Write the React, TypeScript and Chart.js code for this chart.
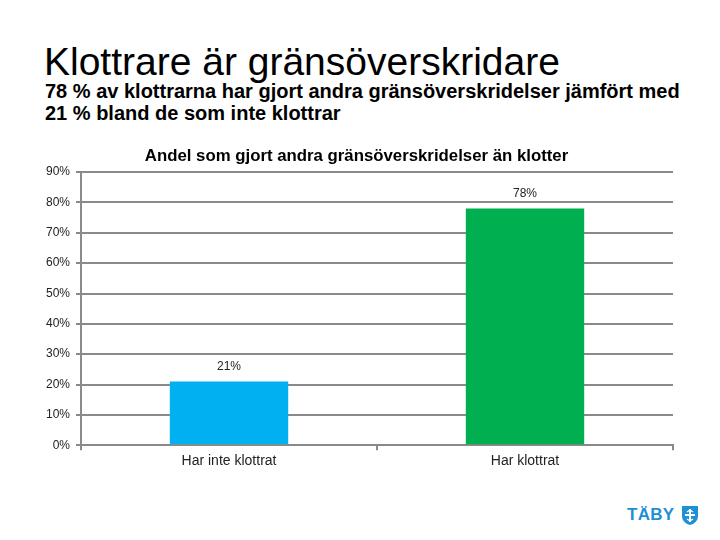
import React, { useEffect, useRef } from "react";
import { Chart, registerables } from "chart.js";

Chart.register(...registerables);

const categories = ["Har inte klottrat", "Har klottrat"];
const values = [21, 78];
const barColors = ["#00B0F0", "#00B050"];
const yTicks = [0, 10, 20, 30, 40, 50, 60, 70, 80, 90];

const FONT = "'Liberation Sans', Arial, sans-serif";

const dataLabels = {
  id: "dataLabels",
  afterDatasetsDraw(chart: any) {
    const ctx = chart.ctx;
    const meta = chart.getDatasetMeta(0);
    ctx.save();
    ctx.font = `12px ${FONT}`;
    ctx.fillStyle = "#222";
    ctx.textAlign = "center";
    ctx.textBaseline = "middle";
    meta.data.forEach((bar: any, i: number) => {
      ctx.fillText(values[i] + "%", bar.x, bar.y - 15);
    });
    ctx.restore();
  },
};

export default function App() {
  const ref = useRef<HTMLCanvasElement>(null);
  useEffect(() => {
    const chart = new Chart(ref.current as HTMLCanvasElement, {
      type: "bar",
      data: {
        labels: categories,
        datasets: [
          {
            data: values,
            backgroundColor: barColors,
            barPercentage: 0.4,
            categoryPercentage: 1,
          },
        ],
      },
      options: {
        animation: false,
        responsive: false,
        maintainAspectRatio: false,
        layout: { padding: { left: 40, right: 47, top: 0, bottom: 7 } },
        plugins: {
          legend: { display: false },
          tooltip: { enabled: false },
          title: {
            display: true,
            text: "Andel som gjort andra gränsöverskridelser än klotter",
            color: "#000",
            font: { family: FONT, size: 16.8, weight: "bold" },
            padding: { top: 6, bottom: 6 },
          },
        },
        scales: {
          x: {
            grid: {
              drawOnChartArea: false,
              drawTicks: true,
              tickLength: 5,
              offset: true,
              color: "#8a8a8a",
              lineWidth: 2,
            },
            border: { color: "#8a8a8a", width: 2 },
            ticks: {
              color: "#222",
              font: { family: FONT, size: 14 },
              padding: 3,
            },
          },
          y: {
            min: 0,
            max: 90,
            afterBuildTicks(axis: any) {
              axis.ticks = yTicks.map((v) => ({ value: v }));
            },
            grid: {
              color: "#8a8a8a",
              lineWidth: 2,
              tickLength: 5,
            },
            border: { color: "#8a8a8a", width: 2 },
            ticks: {
              color: "#222",
              font: { family: FONT, size: 12 },
              padding: 6,
              callback: (v: any) => v + "%",
            },
          },
        },
      },
      plugins: [dataLabels],
    });
    return () => chart.destroy();
  }, []);

  return (
    <div
      style={{
        position: "fixed",
        left: 0,
        top: 0,
        width: 720,
        height: 540,
        background: "#fff",
        fontFamily: FONT,
        overflow: "hidden",
      }}
    >
      <div
        style={{
          position: "absolute",
          left: 44,
          top: 40,
          fontSize: 39,
          lineHeight: "44px",
          color: "#000",
          whiteSpace: "nowrap",
        }}
      >
        Klottrare är gränsöverskridare
      </div>
      <div
        style={{
          position: "absolute",
          left: 45,
          top: 80,
          fontSize: 20,
          lineHeight: "22px",
          fontWeight: "bold",
          color: "#000",
          whiteSpace: "nowrap",
        }}
      >
        78 % av klottrarna har gjort andra gränsöverskridelser jämfört med
        <br />
        21 % bland de som inte klottrar
      </div>
      <div style={{ position: "absolute", left: 0, top: 140, width: 720, height: 340 }}>
        <canvas ref={ref} width={720} height={340} style={{ width: 720, height: 340 }} />
      </div>
      <div
        style={{
          position: "absolute",
          left: 627,
          top: 504,
          fontSize: 17,
          fontWeight: "bold",
          color: "#1E90D6",
          lineHeight: "22px",
          letterSpacing: 0.3,
        }}
      >
        TÄBY
      </div>
      <svg
        style={{ position: "absolute", left: 681, top: 505 }}
        width="18"
        height="21"
        viewBox="0 0 18 21"
      >
        <path d="M1 1 H17 V11 C17 16 13 19 9 20 C5 19 1 16 1 11 Z" fill="#1E90D6" />
        <path d="M9 4 V17 M4 10 H14" stroke="#fff" strokeWidth="2" />
        <path d="M6 7 L9 5 L12 7 M6 14 L9 16 L12 14" stroke="#fff" strokeWidth="1.2" fill="none" />
      </svg>
    </div>
  );
}
